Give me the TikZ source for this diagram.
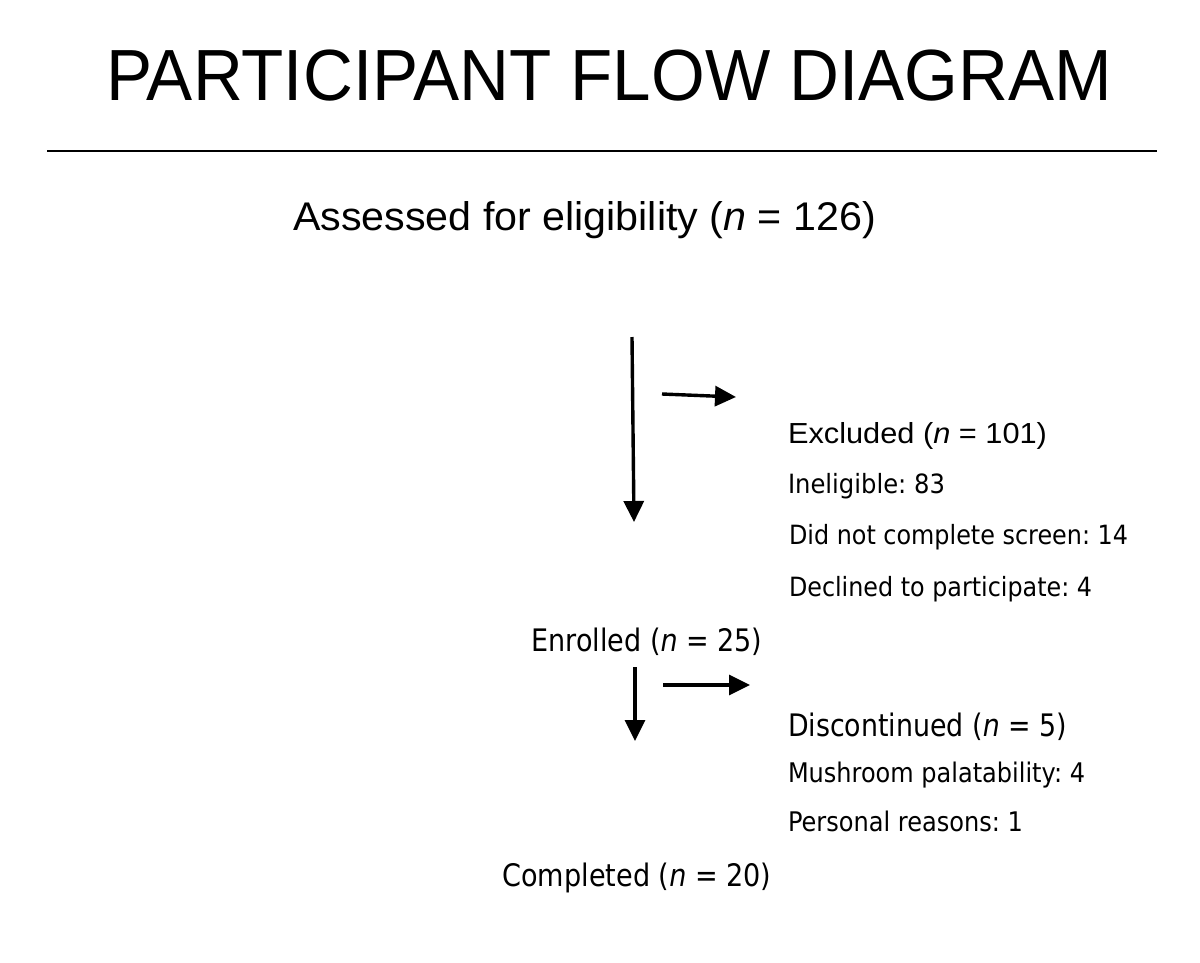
\documentclass[tikz,border=0pt]{standalone}
\usepackage{fontspec}
\usepackage{graphicx}
\setmainfont{Liberation Sans}
\newfontfamily\tahfont{DejaVu Sans}
\usetikzlibrary{arrows.meta}
\frenchspacing
\newcommand{\fitbox}[3]{\resizebox{#1pt}{\height}{\fontsize{#2}{#2}\selectfont #3}}
\tikzset{
  txt/.style={anchor=base west, inner sep=0pt, outer sep=0pt},
  flowarrow/.style={line width=3.4pt, -{Triangle[length=21pt,width=20pt]}},
}
\begin{document}
\begin{tikzpicture}[x=1pt,y=-1pt]
\useasboundingbox[fill=white] (0,0) rectangle (1200,962);
% title and rule
\node[txt] (title) at (106,100) {\fitbox{1006}{72.5}{PARTICIPANT FLOW DIAGRAM}};
\coordinate (ruleL) at (47,151);
\coordinate (ruleR) at (1157,151);
\draw[line width=2.5pt] (ruleL) -- (ruleR);
% main text
\node[txt] (assessed) at (293,230) {\fitbox{583}{40}{Assessed for eligibility (\textit{n} = 126)}};
\node[txt] (excluded) at (788,443) {\fitbox{259}{29}{Excluded (\textit{n} = 101)}};
\node[txt] (inelig) at (788,493) {\fitbox{157}{26.5}{\tahfont Ineligible: 83}};
\node[txt] (didnot) at (789,544.5) {\fitbox{339}{26.5}{\tahfont Did not complete screen: 14}};
\node[txt] (declined) at (789,596) {\fitbox{303}{26.5}{\tahfont Declined to participate: 4}};
\node[txt] (enrolled) at (531.5,651) {\fitbox{231}{31}{\tahfont Enrolled (\textit{n} = 25)}};
\node[txt] (discont) at (788,736.7) {\fitbox{279}{31}{\tahfont Discontinued (\textit{n} = 5)}};
\node[txt] (mushroom) at (788,782) {\fitbox{297}{27}{\tahfont Mushroom palatability: 4}};
\node[txt] (personal) at (788,831.5) {\fitbox{235}{27}{\tahfont Personal reasons: 1}};
\node[txt] (completed) at (502.5,886.7) {\fitbox{269}{31}{\tahfont Completed (\textit{n} = 20)}};
% arrows
\coordinate (a1s) at (632,337);
\coordinate (a1e) at (634,522);
\coordinate (a2s) at (662,394);
\coordinate (a2e) at (736,397);
\coordinate (a3s) at (635,667);
\coordinate (a3e) at (635,741);
\coordinate (a4s) at (663,685);
\coordinate (a4e) at (750,685);
\draw[flowarrow] (a1s) -- (a1e);
\draw[flowarrow] (a2s) -- (a2e);
\draw[flowarrow] (a3s) -- (a3e);
\draw[flowarrow] (a4s) -- (a4e);
\end{tikzpicture}
\end{document}
